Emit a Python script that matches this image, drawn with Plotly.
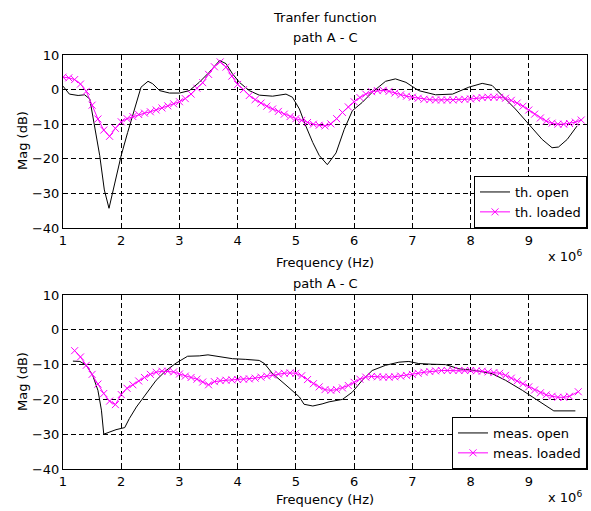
import plotly.graph_objects as go

# ---------- data (frequency in MHz, x 10^6 Hz; magnitude in dB) ----------
th_open_f = [1.0, 1.11, 1.26, 1.37, 1.46, 1.51, 1.63, 1.71, 1.79, 1.89, 2.0, 2.11, 2.23, 2.34, 2.46,
             2.54, 2.66, 2.83, 3.0, 3.17, 3.34, 3.51, 3.69, 3.8, 3.91, 4.03, 4.2, 4.37, 4.6, 4.83,
             4.94, 5.06, 5.17, 5.29, 5.4, 5.54, 5.69, 5.83, 5.97, 6.14, 6.31, 6.54, 6.71, 6.89,
             7.11, 7.4, 7.69, 7.97, 8.2, 8.37, 8.54, 8.77, 9.0, 9.23, 9.4, 9.51, 9.66, 9.83]
th_open_db = [1.0, -1.3, -1.7, -1.5, -2.7, -7.6, -19.0, -29.0, -34.3, -27.0, -19.0, -12.4, -5.6, 0.7, 2.4,
              1.7, -0.3, -1.0, -1.0, -0.3, 2.1, 5.0, 8.4, 7.5, 4.6, 2.1, -0.3, -1.6, -1.9, -1.3,
              -2.2, -5.6, -10.5, -15.3, -19.0, -21.7, -18.3, -11.5, -6.1, -3.7, -0.8, 2.4, 3.1, 2.1,
              -0.3, -1.5, -1.3, 0.7, 1.8, 1.2, -1.7, -5.6, -10.0, -14.4, -16.8, -16.6, -14.4, -10.5]

th_loaded_f = [round(1.0 + 0.1 * i, 1) for i in range(90)]
th_loaded_db = [3.6, 3.4, 2.9, 1.6, -0.5, -4.5, -8.5, -11.7, -13.5, -11.2,
                -9.3, -8.4, -7.8, -7.2, -6.8, -6.4, -5.9, -5.3, -4.7, -4.1,
                -3.5, -2.6, -1.3, 0.4, 2.0, 4.4, 6.6, 8.0, 6.5, 3.9,
                1.5, 0.0, -1.7, -2.9, -3.9, -4.8, -5.6, -6.3, -7.1, -7.8,
                -8.4, -8.9, -9.5, -10.0, -10.3, -10.5, -9.9, -8.4, -6.6, -5.0,
                -3.5, -2.3, -1.3, -0.6, -0.3, -0.2, -0.5, -1.0, -1.5, -1.9,
                -2.2, -2.5, -2.8, -2.9, -3.0, -3.0, -3.0, -3.0, -2.9, -2.8,
                -2.7, -2.5, -2.3, -2.2, -2.2, -2.2, -2.5, -3.1, -3.9, -4.8,
                -5.9, -7.1, -8.2, -9.1, -9.7, -10.0, -10.0, -9.8, -9.4, -8.8]

meas_open_f = [1.17, 1.29, 1.4, 1.51, 1.6, 1.66, 1.7, 1.8, 1.91, 2.06, 2.14, 2.26, 2.43, 2.6, 2.77,
               2.94, 3.14, 3.34, 3.49, 3.69, 3.91, 4.14, 4.37, 4.46, 4.6, 4.83, 5.06, 5.14, 5.29,
               5.45, 5.57, 5.8, 5.97, 6.14, 6.31, 6.54, 6.77, 6.94, 7.11, 7.34, 7.57, 7.8, 8.09,
               8.37, 8.6, 8.89, 9.11, 9.29, 9.43, 9.8]
meas_open_db = [-9.0, -9.1, -10.2, -13.1, -17.4, -23.1, -30.0, -29.3, -28.7, -28.1, -25.5, -22.2, -18.3, -14.5, -11.7,
                -9.6, -7.6, -7.5, -7.2, -7.8, -8.3, -8.5, -8.8, -9.7, -12.6, -15.9, -19.3, -21.4, -21.9,
                -21.3, -20.7, -20.0, -17.9, -14.5, -11.7, -10.2, -9.3, -9.1, -9.7, -9.9, -10.0, -11.2, -11.7,
                -12.6, -14.5, -17.4, -19.8, -21.7, -23.3, -23.3]

meas_loaded_f = [round(1.2 + 0.1 * i, 1) for i in range(86)] + [9.85]
meas_loaded_db = [-6.0, -7.8, -10.2, -12.8, -15.6, -18.3, -20.5, -21.5, -18.6, -16.8,
                  -15.8, -14.7, -13.7, -12.8, -12.2, -11.9, -11.9, -12.1, -12.7, -13.3,
                  -13.7, -14.2, -15.0, -15.8, -14.9, -14.6, -14.5, -14.4, -14.3, -14.2,
                  -14.1, -13.9, -13.6, -13.3, -13.0, -12.7, -12.5, -12.4, -12.5, -13.2,
                  -14.3, -15.5, -16.4, -17.2, -17.4, -17.2, -16.7, -16.0, -15.1, -14.2,
                  -13.6, -13.4, -13.5, -13.6, -13.6, -13.5, -13.3, -13.1, -12.8, -12.5,
                  -12.2, -12.0, -11.8, -11.7, -11.7, -11.7, -11.7, -11.7, -11.7, -11.8,
                  -11.9, -12.1, -12.3, -12.5, -13.1, -13.9, -14.7, -15.5, -16.4, -17.3,
                  -18.1, -18.7, -19.1, -19.4, -19.4, -19.1, -17.8]

x_ticks = [1, 2, 3, 4, 5, 6, 7, 8, 9]
y_ticks = [-40, -30, -20, -10, 0, 10]

FONT = "DejaVu Sans, Liberation Sans, Arial, sans-serif"
MAG = "#ff00ff"
FS = 13

fig = go.Figure()

def loaded_trace(x, y, name, xa, ya, legend):
    return go.Scatter(x=x, y=y, name=name, xaxis=xa, yaxis=ya, legend=legend,
                      mode="lines+markers", line=dict(color=MAG, width=1),
                      marker=dict(symbol="x-thin", size=7, color=MAG,
                                  line=dict(width=1, color=MAG)))

fig.add_trace(go.Scatter(x=th_open_f, y=th_open_db, name="th. open", xaxis="x", yaxis="y",
                         legend="legend", mode="lines", line=dict(color="black", width=1)))
fig.add_trace(loaded_trace(th_loaded_f, th_loaded_db, "th. loaded", "x", "y", "legend"))
fig.add_trace(go.Scatter(x=meas_open_f, y=meas_open_db, name="meas. open", xaxis="x2", yaxis="y2",
                         legend="legend2", mode="lines", line=dict(color="black", width=1)))
fig.add_trace(loaded_trace(meas_loaded_f, meas_loaded_db, "meas. loaded", "x2", "y2", "legend2"))

top_dom = [0.5821, 1.0]
bot_dom = [0.0, 0.4203]

GRID = dict(showgrid=True, gridcolor="black", griddash="5px,3px", gridwidth=1,
            showline=True, linecolor="black", linewidth=1, mirror=True,
            ticks="inside", ticklen=4, tickcolor="black", zeroline=False,
            tickfont=dict(size=FS, color="black"))

def xaxis(anchor):
    return dict(range=[1, 10], tickvals=x_ticks, ticktext=[str(v) for v in x_ticks],
                anchor=anchor, **GRID)

def yaxis(dom, anchor):
    return dict(range=[-40, 10], tickvals=y_ticks, domain=dom, anchor=anchor, **GRID)

legend_style = dict(bgcolor="white", bordercolor="black", borderwidth=1,
                    font=dict(size=FS, color="black", family=FONT),
                    xanchor="right", yanchor="bottom", x=1.0, tracegroupgap=0,
                    itemwidth=30)

fig.update_layout(
    width=591, height=511,
    margin=dict(l=63, r=4, t=55, b=42),
    paper_bgcolor="white", plot_bgcolor="white",
    font=dict(family=FONT, size=FS, color="black"),
    xaxis=xaxis("y"), yaxis=yaxis(top_dom, "x"),
    xaxis2=xaxis("y2"), yaxis2=yaxis(bot_dom, "x2"),
    legend=dict(**legend_style, y=top_dom[0]),
    legend2=dict(**legend_style, y=bot_dom[0]),
    showlegend=True,
)

def ann(text, x, y, size=FS, textangle=0):
    fig.add_annotation(text=text, x=x, y=y, xref="paper", yref="paper",
                       showarrow=False, font=dict(size=size, color="black", family=FONT),
                       xanchor="center", yanchor="middle", textangle=textangle)

# paper fractions: x = (px-63)/524, y = (469-py)/414
ann("Tranfer function", 0.5, (469 - 17) / 414)
ann("path A - C", 0.5, (469 - 37) / 414)
ann("path A - C", 0.5, (469 - 283) / 414)
ann("Frequency (Hz)", 0.5, (469 - 262) / 414)
ann("Frequency (Hz)", 0.5, (469 - 500) / 414)
ann("x 10<sup>6</sup>", (565 - 63) / 524, (469 - 256) / 414)
ann("x 10<sup>6</sup>", (565 - 63) / 524, (469 - 497) / 414)
ann("Mag (dB)", (22 - 63) / 524, (469 - 141) / 414, textangle=-90)
ann("Mag (dB)", (22 - 63) / 524, (469 - 382) / 414, textangle=-90)

fig.write_html("out.html", config={"displayModeBar": False},
               post_script="document.body.style.margin='0';document.body.style.overflow='hidden';")
